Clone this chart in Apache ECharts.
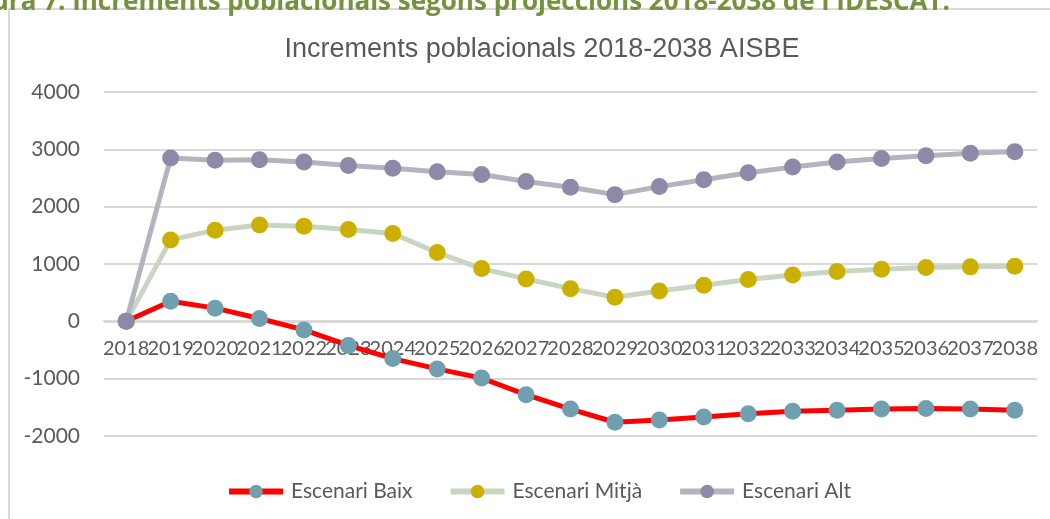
<!DOCTYPE html>
<html>
<head>
<meta charset="utf-8">
<script src="https://cdn.jsdelivr.net/npm/echarts@6/dist/echarts.min.js"></script>
<style>
  html, body { margin: 0; padding: 0; background: #fff; }
  #chart { width: 1050px; height: 519px; }
</style>
</head>
<body>
<div id="chart"></div>
<script>
// anys
const years = ['2018', '2019', '2020', '2021', '2022', '2023', '2024', '2025', '2026', '2027', '2028',
  '2029', '2030', '2031', '2032', '2033', '2034', '2035', '2036', '2037', '2038']
// escenaris
const baix = [0, 350, 230, 50, -150, -420, -650, -830, -990, -1280, -1530,
  -1760, -1720, -1670, -1610, -1570, -1550, -1530, -1520, -1530, -1550]
const mitja = [0, 1420, 1590, 1680, 1660, 1600, 1530, 1200, 920, 740, 570,
  420, 530, 630, 730, 810, 870, 910, 940, 950, 960]
const alt = [0, 2850, 2810, 2820, 2780, 2720, 2670, 2610, 2560, 2440, 2340,
  2210, 2350, 2470, 2590, 2690, 2780, 2840, 2890, 2930, 2960]
const yTicks = [-2000, -1000, 0, 1000, 2000, 3000, 4000]

const txt = '#595959'
const font = 'Lato, "Open Sans", sans-serif'

function serie(name, data, lineColor, dotColor) {
  return {
    name: name,
    type: 'line',
    data: data,
    symbol: 'circle',
    symbolSize: 17,
    itemStyle: { color: dotColor },
    lineStyle: { color: lineColor, width: 5 },
    emphasis: { disabled: true },
    animation: false
  }
}

const chart = echarts.init(document.getElementById('chart'))
chart.setOption({
  title: {
    text: 'Increments poblacionals 2018-2038 AISBE',
    left: 537,
    textAlign: 'center',
    top: 31,
    textStyle: { color: txt, fontSize: 27, fontWeight: 'normal', fontFamily: 'Liberation Sans, Arial, sans-serif' }
  },
  graphic: [
    // marc del gràfic
    { type: 'rect', shape: { x: 9, y: 9, width: 1060, height: 530 }, style: { fill: 'none', stroke: '#d9d9d9', lineWidth: 2 }, z: -1 },
    // capçalera retallada del document
    { type: 'text', right: 100, top: -10,
      style: { text: 'Figura 7. Increments poblacionals segons projeccions 2018-2038 de l\'IDESCAT.',
        fill: '#76923c', font: 'bold 26px "Open Sans", sans-serif' } }
  ],
  legend: {
    bottom: 17,
    left: 226,
    padding: 0,
    itemWidth: 54,
    itemHeight: 17,
    itemGap: 35,
    lineStyle: { width: 6 },
    textStyle: { color: txt, fontSize: 21, fontFamily: font, padding: [0, 0, 0, 3] },
    data: ['Escenari Baix', 'Escenari Mitjà', 'Escenari Alt']
  },
  grid: { left: 104, right: 13, top: 92, bottom: 83 },
  xAxis: {
    type: 'category',
    data: years,
    boundaryGap: true,
    offset: -115,
    axisLine: { onZero: false, lineStyle: { color: '#d9d9d9', width: 2 } },
    axisTick: { show: false },
    axisLabel: { color: txt, fontSize: 20, fontFamily: font, margin: 18, interval: 0 }
  },
  yAxis: {
    type: 'value',
    min: yTicks[0],
    max: yTicks[yTicks.length - 1],
    interval: 1000,
    axisLine: { show: false },
    axisTick: { show: false },
    axisLabel: { color: txt, fontSize: 21, fontFamily: font, margin: 24, formatter: v => String(v) },
    splitLine: { lineStyle: { color: '#d9d9d9', width: 2 } }
  },
  series: [
    serie('Escenari Baix', baix, '#ff0000', '#70a0b0'),
    serie('Escenari Mitjà', mitja, '#c9d5c3', '#ccb000'),
    serie('Escenari Alt', alt, '#b2b5bd', '#8e89a6')
  ]
})
</script>
</body>
</html>
